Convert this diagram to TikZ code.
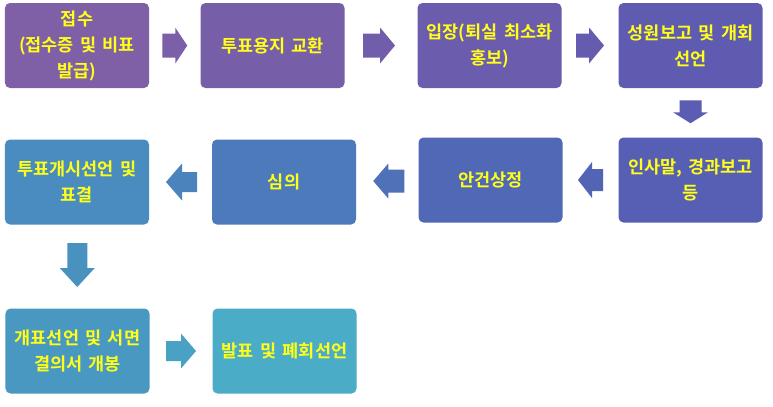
\documentclass[tikz,border=0pt]{standalone}
\usepackage{fontspec}
\setmainfont{Noto Sans CJK KR}[BoldFont={Noto Sans CJK KR Bold}, WordSpace=1.6]
\usetikzlibrary{calc}
\definecolor{txt}{HTML}{FFFF1A}
\definecolor{c1}{HTML}{7F60A6}
\definecolor{c2}{HTML}{775EA9}
\definecolor{c3}{HTML}{6C5CAE}
\definecolor{c4}{HTML}{5F5BB1}
\definecolor{c5}{HTML}{565FB3}
\definecolor{c6}{HTML}{5068B5}
\definecolor{c7}{HTML}{4C7ABA}
\definecolor{c8}{HTML}{4A8CBF}
\definecolor{c9}{HTML}{4898C2}
\definecolor{c10}{HTML}{4AACC6}
\newcommand{\blockarr}[6]{% #1 centre, #2 angle, #3 half length, #4 head length, #5 shaft half width, #6 head half width
  \begin{scope}[shift={(#1)}, rotate=#2]
    \path[arrowfill] (-#3,-#5) -- (#3-#4,-#5) -- (#3-#4,-#6) -- (#3,0) -- (#3-#4,#6) -- (#3-#4,#5) -- (-#3,#5) -- cycle;
  \end{scope}}
\begin{document}
\begin{tikzpicture}[x=1bp,y=-1bp,
  procbox/.style={rounded corners=5bp, minimum width=144bp, minimum height=85bp,
    inner sep=1bp, text=txt, align=center,
    font=\fontsize{17.5bp}{26bp}\selectfont\bfseries},
  arrowfill/.style={fill=c5}]
\fill[white] (0,0) rectangle (773,406);
\useasboundingbox (0,0) rectangle (773,406);
% row 1
\node[procbox, fill=c1] (b1) at (77,45.5) {접수\\(접수증 및 비표\\발급)};
\node[procbox, fill=c2] (b2) at (272.5,45.5) {투표용지 교환};
\node[procbox, fill=c3] (b3) at (489.5,45.5) {입장(퇴실 최소화\\홍보)};
\node[procbox, fill=c4] (b4) at (690.5,45.5) {성원보고 및 개회\\선언};
% row 2
\node[procbox, fill=c5] (b5) at (690.5,180) {인사말, 경과보고\\등};
\node[procbox, fill=c6] (b6) at (490.5,180) {안건상정};
\node[procbox, fill=c7] (b7) at (284,182) {심의};
\node[procbox, fill=c8] (b8) at (77,182) {투표개시선언 및\\표결};
% row 3
\node[procbox, fill=c9] (b9) at (77.5,351) {개표선언 및 서면\\결의서 개봉};
\node[procbox, fill=c10] (b10) at (284.5,351) {발표 및 폐회선언};
% arrows
\tikzset{arrowfill/.style={fill=c1!50!c2}}
\blockarr{$(b1.east)!0.5!(b2.west)$}{0}{12.5}{12}{12}{18}
\tikzset{arrowfill/.style={fill=c2!50!c3}}
\blockarr{$(b2.east)!0.5!(b3.west)+(-2,0)$}{0}{16}{15}{12}{18}
\tikzset{arrowfill/.style={fill=c3!50!c4}}
\blockarr{$(b3.east)!0.5!(b4.west)$}{0}{14}{15}{12}{18}
\tikzset{arrowfill/.style={fill=c4!50!c5}}
\blockarr{$(b4.south)!0.5!(b5.north)+(0,-1)$}{-90}{11.5}{11}{11}{17.5}
\tikzset{arrowfill/.style={fill=c5!50!c6}}
\blockarr{$(b5.west)!0.5!(b6.east)$}{180}{12.5}{14}{11}{18}
\tikzset{arrowfill/.style={fill=c6!50!c7}}
\blockarr{$(b6.west)!0.5!(b7.east)+(1.5,0)$}{180}{15.5}{15}{11.5}{17.5}
\tikzset{arrowfill/.style={fill=c7!50!c8}}
\blockarr{$(b7.west)!0.5!(b8.east)+(1,0)$}{180}{15.5}{16}{10}{18.5}
\tikzset{arrowfill/.style={fill=c8!50!c9}}
\blockarr{$(b8.south)!0.5!(b9.north)+(0,-1.5)$}{-90}{22}{19}{10}{17.5}
\tikzset{arrowfill/.style={fill=c9!50!c10}}
\blockarr{$(b9.east)!0.5!(b10.west)$}{0}{15}{15}{10}{17.5}
\end{tikzpicture}
\end{document}
